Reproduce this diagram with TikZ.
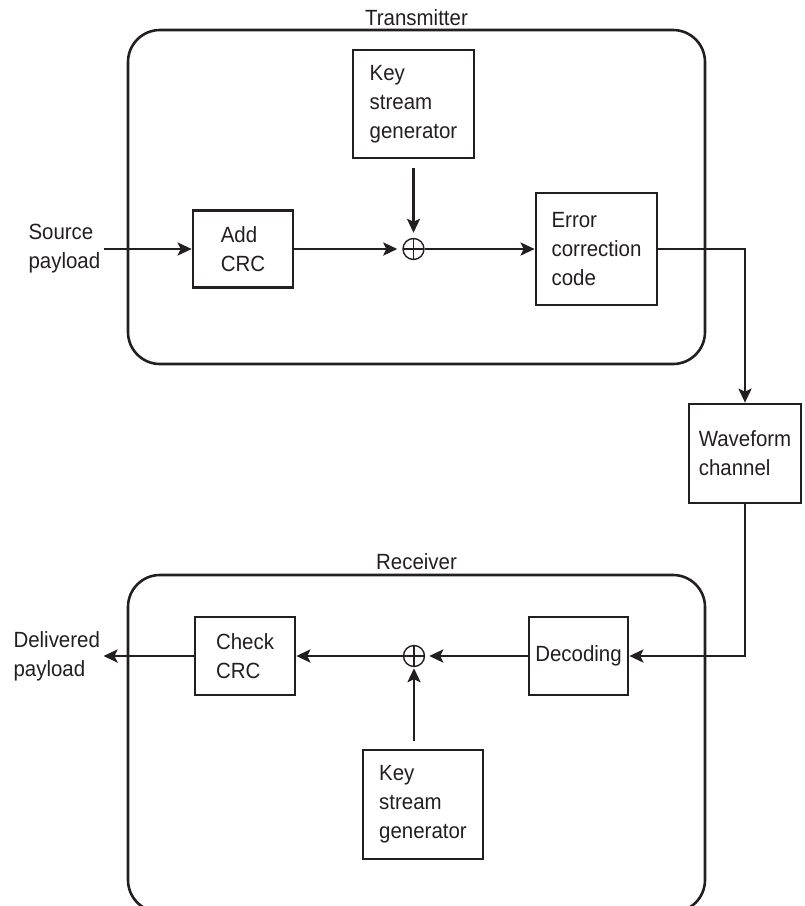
\documentclass[tikz,border=0pt]{standalone}
\usepackage{fontspec}
\setmainfont[FakeStretch=0.93]{Liberation Sans}
\usetikzlibrary{arrows.meta}
\definecolor{ink}{RGB}{35,31,32}
\begin{document}
\begin{tikzpicture}[x=1pt, y=-1pt,
  every node/.style={font=\fontsize{22}{29}\selectfont, text=ink},
  container/.style={draw=ink, line width=2.6pt, rounded corners=32pt, inner sep=0pt},
  block/.style={draw=ink, line width=2.7pt, align=left, inner sep=0pt},
  xorop/.style={circle, draw=ink, line width=1.4pt, minimum size=21pt, inner sep=0pt,
    path picture={\draw[ink, line width=1.4pt]
      (path picture bounding box.north) -- (path picture bounding box.south)
      (path picture bounding box.west) -- (path picture bounding box.east);}},
  flow/.style={draw=ink, line width=2.6pt, -{Stealth[length=14pt, width=13pt, inset=3pt]}},
  wire/.style={draw=ink, line width=2.6pt}
]
\useasboundingbox (0,0) rectangle (805,906);

% transmitter and receiver enclosures
\node[container, minimum width=577pt, minimum height=334pt] (tx) at (416.5,197) {};
\node[anchor=base] (txlabel) at (416.5,25) {Transmitter};
\node[container, minimum width=577pt, minimum height=337pt] (rx) at (416.5,743.5) {};
\node[anchor=base] (rxlabel) at (416.5,569) {Receiver};

% transmitter chain
\node[anchor=west, align=left] (src) at (25,249) {Source\\payload};
\node[block, minimum width=100pt, minimum height=77pt] (add) at (243,249) {Add\\CRC};
\node[xorop] (xor1) at (413.5,249) {};
\node[block, minimum width=121pt, minimum height=108pt] (key1) at (413.5,104) {Key\\stream\\generator};
\node[block, minimum width=121pt, minimum height=112pt] (ecc) at (596.5,249) {Error\\correction\\code};

% channel
\node[block, minimum width=112pt, minimum height=99pt] (wave) at (745,453.5) {Waveform\\channel};

% receiver chain
\node[block, minimum width=99pt, minimum height=78pt] (dec) at (578.5,656) {Decoding};
\node[xorop] (xor2) at (414,656) {};
\node[block, minimum width=100pt, minimum height=78pt] (chk) at (245,656) {Check\\CRC};
\node[block, minimum width=120pt, minimum height=109pt] (key2) at (423,804.5) {Key\\stream\\generator};
\node[anchor=west, align=left] (dst) at (10,656) {Delivered\\payload};

% connectors
\draw[flow] (src.east) -- (add.west);
\draw[flow, shorten >=5pt] (add.east) -- (xor1.west);
\draw[flow, shorten <=9pt, shorten >=5pt] (key1.south) -- (xor1.north);
\draw[flow] (xor1.east) -- (ecc.west);
\draw[flow] (ecc.east) -| (wave.north);
\draw[flow] (wave.south) |- (dec.east);
\draw[flow, shorten >=4pt] (dec.west) -- (xor2.east);
\draw[flow, shorten <=8pt, shorten >=1pt] (key2.north -| xor2.south) -- (xor2.south);
\draw[flow] (xor2.west) -- (chk.east);
\draw[flow] (chk.west) -- (dst.east);
\end{tikzpicture}
\end{document}
